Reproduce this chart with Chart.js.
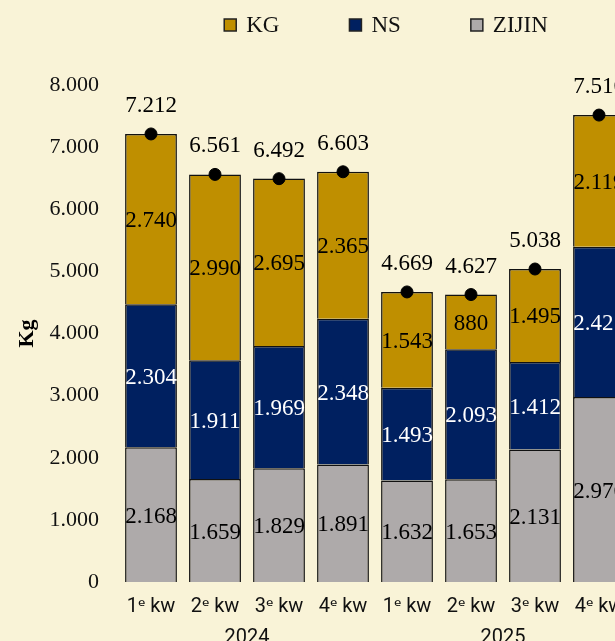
<!DOCTYPE html>
<html>
<head>
<meta charset="utf-8">
<script src="https://cdn.jsdelivr.net/npm/chart.js@4.4.1/dist/chart.umd.min.js"></script>
<style>
  html, body { margin: 0; padding: 0; overflow: hidden; background: #f9f3d7; }
  #wrap { width: 615px; height: 641px; overflow: hidden; }
</style>
</head>
<body>
<div id="wrap"><canvas id="kgChart" width="680" height="670"></canvas></div>
<script>
// Gegevens per kwartaal (kg)
const kwartalen = ['1ᵉ kw', '2ᵉ kw', '3ᵉ kw', '4ᵉ kw', '1ᵉ kw', '2ᵉ kw', '3ᵉ kw', '4ᵉ kw'];
const jaren = ['2024', '2025'];
const zijin = [2168, 1659, 1829, 1891, 1632, 1653, 2131, 2976];
const ns = [2304, 1911, 1969, 2348, 1493, 2093, 1412, 2421];
const kg = [2740, 2990, 2695, 2365, 1543, 880, 1495, 2119];
const totalen = [7212, 6561, 6492, 6603, 4669, 4627, 5038, 7516];
const yMax = 8000;
const yStap = 1000;

const serif = '"Liberation Serif", "Times New Roman", serif';
const sans = 'Roboto, "Noto Sans", sans-serif';

function fmt(v) {
    return String(v).replace(/\B(?=(\d{3})+(?!\d))/g, '.');
}

// Waarden in de balken en totalen boven de punten
const waardeLabels = {
    id: 'waardeLabels',
    afterDatasetsDraw(chart) {
        const ctx = chart.ctx;
        ctx.save();
        ctx.textAlign = 'center';
        ctx.textBaseline = 'middle';
        ctx.font = '23px ' + serif;
        chart.data.datasets.forEach((ds, i) => {
            const meta = chart.getDatasetMeta(i);
            meta.data.forEach((el, j) => {
                const v = ds.data[j];
                if (ds.type === 'line') {
                    ctx.fillStyle = '#000';
                    ctx.fillText(fmt(v), el.x, el.y - 28);
                } else {
                    ctx.fillStyle = ds.labelColor;
                    ctx.fillText(fmt(v), el.x, (el.y + el.base) / 2 + 2);
                }
            });
        });
        ctx.restore();
    }
};

// Legenda bovenaan (KG, NS, ZIJIN)
const legende = {
    id: 'legende',
    afterDraw(chart) {
        const ctx = chart.ctx;
        const items = chart.data.datasets.filter(d => d.type !== 'line').slice().reverse();
        ctx.save();
        ctx.font = '23px ' + serif;
        ctx.textBaseline = 'middle';
        const box = 12, gap = 10, ruimte = 70;
        const breedtes = items.map(it => box + gap + ctx.measureText(it.label).width);
        const totaal = breedtes.reduce((a, b) => a + b, 0) + ruimte * (items.length - 1);
        let x = 386 - totaal / 2;
        const y = 25;
        items.forEach((it, i) => {
            ctx.fillStyle = it.backgroundColor;
            ctx.fillRect(x, y - box / 2, box, box);
            ctx.strokeStyle = '#222';
            ctx.lineWidth = 1.5;
            ctx.strokeRect(x, y - box / 2, box, box);
            ctx.fillStyle = '#111';
            ctx.fillText(it.label, x + box + gap, y + 1);
            x += breedtes[i] + ruimte;
        });
        ctx.restore();
    }
};

const ctx = document.getElementById('kgChart').getContext('2d');
new Chart(ctx, {
    type: 'bar',
    data: {
        labels: kwartalen,
        datasets: [
            { label: 'ZIJIN', data: zijin, backgroundColor: '#aeaaaa', labelColor: '#000', stack: 'a' },
            { label: 'NS', data: ns, backgroundColor: '#002060', labelColor: '#fff', stack: 'a' },
            { label: 'KG', data: kg, backgroundColor: '#bf8f00', labelColor: '#000', stack: 'a' },
            {
                type: 'line', label: 'Totaal', data: totalen, stack: 'totaal', order: -1,
                showLine: false, pointRadius: 6, pointBackgroundColor: '#000',
                pointBorderColor: '#000', borderColor: '#000'
            }
        ]
    },
    options: {
        responsive: false,
        animation: false,
        layout: { padding: { top: 85, right: 49, bottom: 11, left: 0 } },
        datasets: {
            bar: { borderColor: '#111', borderWidth: 1.5, barPercentage: 0.9, categoryPercentage: 0.9 }
        },
        plugins: {
            legend: { display: false },
            tooltip: { enabled: false }
        },
        scales: {
            x: {
                stacked: true,
                weight: 1,
                grid: { display: false },
                border: { display: false },
                ticks: { color: '#111', font: { family: sans, size: 20 }, padding: 5 },
                afterFit(scale) { scale.height = 32; }
            },
            x2: {
                type: 'category',
                labels: jaren,
                position: 'bottom',
                weight: 2,
                offset: true,
                grid: { display: false },
                border: { display: false },
                ticks: { color: '#111', font: { family: sans, size: 20 }, padding: 4 },
                afterFit(scale) { scale.height = 45; }
            },
            y: {
                stacked: true,
                min: 0,
                max: yMax,
                grid: { display: false },
                border: { display: false },
                ticks: {
                    stepSize: yStap,
                    color: '#111',
                    padding: 12,
                    font: { family: serif, size: 22 },
                    callback: v => fmt(v)
                },
                title: {
                    display: true,
                    text: 'Kg',
                    color: '#000',
                    font: { family: serif, size: 22, weight: 'bold' },
                    padding: { top: 14, bottom: 0 }
                },
                afterFit(scale) { scale.width = 119; }
            }
        }
    },
    plugins: [waardeLabels, legende]
});
</script>
</body>
</html>
